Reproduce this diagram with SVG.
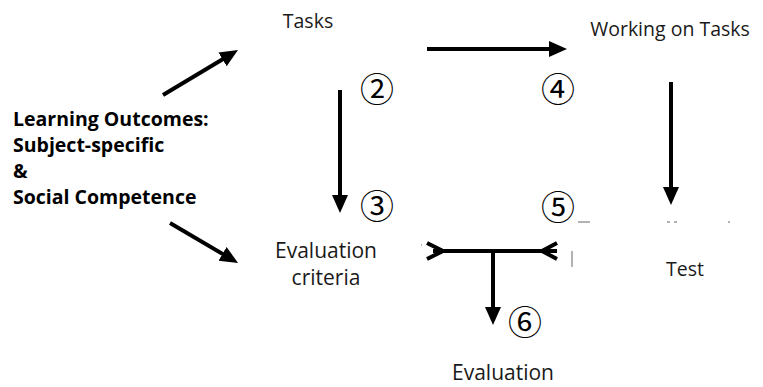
<svg xmlns="http://www.w3.org/2000/svg" width="763" height="387" viewBox="0 0 763 387">
<style>
.lbl{font-family:"Open Sans","Liberation Sans",sans-serif;font-size:19.5px;fill:#1a1a1a;text-anchor:middle}
.ev{font-size:21px}
.bold{font-family:"Open Sans","Liberation Sans",sans-serif;font-size:19.5px;font-weight:bold;fill:#000}
.num{font-family:"Noto Sans CJK JP","DejaVu Sans",sans-serif;font-size:34px;fill:#000;text-anchor:middle;dominant-baseline:central}
.conn{stroke:#000;stroke-width:4;fill:none}
.art{stroke:#666;stroke-width:1;fill:none}
</style>
<defs>
<marker id="ah" markerUnits="userSpaceOnUse" markerWidth="18" markerHeight="18" refX="6" refY="8" orient="auto" viewBox="0 0 18 16">
<path d="M0,0 L18,8 L0,16 z" fill="#000"/>
</marker>
</defs>
<rect width="763" height="387" fill="#fff"/>
<g id="connectors">
<line class="conn" x1="163" y1="95" x2="227.7" y2="56.2" marker-end="url(#ah)"/>
<line class="conn" x1="170" y1="223" x2="227.7" y2="256.9" marker-end="url(#ah)"/>
<line class="conn" x1="427" y1="49" x2="555" y2="49" marker-end="url(#ah)"/>
<line class="conn" x1="340" y1="90" x2="340" y2="201" marker-end="url(#ah)"/>
<line class="conn" x1="671" y1="82" x2="671" y2="193" marker-end="url(#ah)"/>
<line class="conn" x1="433" y1="251" x2="557" y2="251"/>
<polyline class="conn" points="427,243 443,251 427,259"/>
<polyline class="conn" points="557,243 542,251 557,259"/>
<line class="conn" x1="493" y1="251" x2="493" y2="313" marker-end="url(#ah)"/>
</g>
<g id="outcomes">
<text class="bold" x="13" y="126">Learning Outcomes:</text>
<text class="bold" x="13" y="152">Subject-specific</text>
<text class="bold" x="13" y="178">&amp;</text>
<text class="bold" x="13" y="204">Social Competence</text>
</g>
<g id="tasks"><text class="lbl" x="308" y="28">Tasks</text></g>
<g id="working"><text class="lbl" x="670" y="36">Working on Tasks</text></g>
<g id="criteria">
<text class="lbl ev" x="326" y="258">Evaluation</text>
<text class="lbl ev" x="326" y="285">criteria</text>
</g>
<g id="test"><text class="lbl" x="685" y="276">Test</text></g>
<g id="evaluation"><text class="lbl ev" x="503" y="380">Evaluation</text></g>
<g id="steps">
<text class="num" x="377" y="87">②</text>
<text class="num" x="377" y="204">③</text>
<text class="num" x="558" y="87">④</text>
<text class="num" x="558" y="205">⑤</text>
<text class="num" x="525" y="320">⑥</text>
</g>
<g id="artifacts">
<line class="art" x1="421" y1="245" x2="422" y2="245"/>
<line class="art" x1="578" y1="222" x2="590" y2="222"/>
<line class="art" x1="572" y1="251" x2="572" y2="267"/>
<line class="art" x1="667" y1="222" x2="670" y2="222"/>
<line class="art" x1="674" y1="222" x2="677" y2="222"/>
<line class="art" x1="728" y1="222" x2="730" y2="222"/>
</g>
</svg>
